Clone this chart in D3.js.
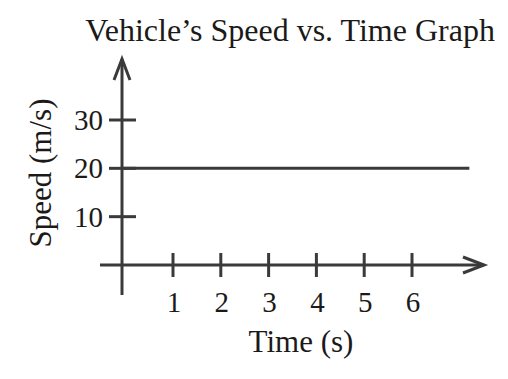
<!DOCTYPE html>
<html><head><meta charset="utf-8">
<script src="https://cdn.jsdelivr.net/npm/d3@7"></script>
<style>body{margin:0;background:#fff}svg{display:block}</style>
</head><body>
<script>
const title = "Vehicle’s Speed vs. Time Graph";
const xLabel = "Time (s)";
const yLabel = "Speed (m/s)";
const xTicks = [1, 2, 3, 4, 5, 6];
const yTicks = [10, 20, 30];
const speedTimes = [0, 7.2];
const speedValues = [20, 20];

const W = 508, H = 379;
const svg = d3.select("body").append("svg").attr("width", W).attr("height", H);
const col = "#3a3a3a", tcol = "#1c1a18";
const font = "'Liberation Serif','Times New Roman',serif";

const x = d3.scaleLinear().domain([1, 6]).range([173, 412]);
const y = d3.scaleLinear().domain([0, 30]).range([265, 120]);
const axX = 122;

const g = svg.append("g").attr("stroke", col).attr("stroke-width", 3).attr("fill", "none");
// x axis
g.append("line").attr("x1", 100).attr("x2", 484).attr("y1", y(0)).attr("y2", y(0));
g.append("path").attr("d", `M463,${y(0)-8}L484,${y(0)}L463,${y(0)+8}`);
// y axis
g.append("line").attr("x1", axX).attr("x2", axX).attr("y1", 59).attr("y2", 295);
g.append("path").attr("d", `M114,80L${axX},59L130,80`);
// x ticks
g.selectAll(".xt").data(xTicks).join("line")
  .attr("x1", d => x(d)).attr("x2", d => x(d)).attr("y1", y(0) - 12).attr("y2", y(0) + 12);
// y ticks
g.selectAll(".yt").data(yTicks).join("line")
  .attr("x1", 109).attr("x2", 136).attr("y1", d => y(d)).attr("y2", d => y(d));
// data line
const line = d3.line().x(d => d[0] === 0 ? axX : x(d[0])).y(d => y(d[1]));
g.append("path").attr("d", line(speedTimes.map((t, i) => [t, speedValues[i]])));

const t = svg.append("g").attr("fill", tcol).style("font-family", font);
t.append("text").attr("x", 290).attr("y", 41).attr("text-anchor", "middle")
  .style("font-size", "32px").text(title);
t.selectAll(".xl").data(xTicks).join("text")
  .attr("x", d => x(d) + 1).attr("y", 312).attr("text-anchor", "middle")
  .style("font-size", "29px").text(d => d);
t.selectAll(".yl").data(yTicks).join("text")
  .attr("x", 103).attr("y", d => y(d) + 10).attr("text-anchor", "end")
  .style("font-size", "29px").text(d => d);
t.append("text").attr("x", 301).attr("y", 352).attr("text-anchor", "middle")
  .style("font-size", "31px").text(xLabel);
t.append("text").attr("transform", "translate(51,173) rotate(-90)").attr("text-anchor", "middle")
  .style("font-size", "31px").text(yLabel);
</script>
</body></html>
